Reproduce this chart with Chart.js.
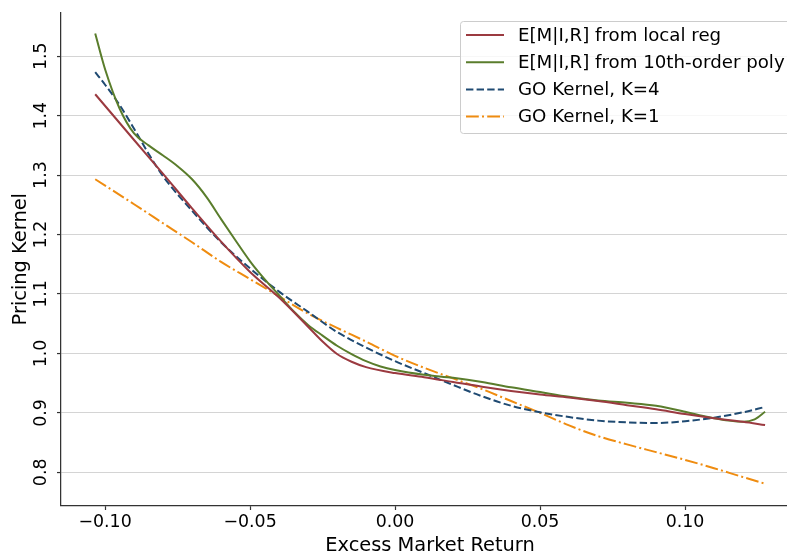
<!DOCTYPE html>
<html>
<head>
<meta charset="utf-8">
<script src="https://cdn.jsdelivr.net/npm/chart.js@4.4.1/dist/chart.umd.min.js"></script>
<style>
html,body{margin:0;padding:0;background:#fff;overflow:hidden;}
#wrap{width:800px;height:558px;}
</style>
</head>
<body>
<div id="wrap"><canvas id="c" width="800" height="558"></canvas></div>
<script>
// ---- data ----
const seriesLabels = [
  "E[M|I,R] from local reg",
  "E[M|I,R] from 10th-order poly",
  "GO Kernel, K=4",
  "GO Kernel, K=1"
];
const xLocal = [-0.1034,-0.09,-0.08,-0.07,-0.06,-0.05,-0.04,-0.03,-0.025,-0.02,-0.015,-0.01,0,0.01,0.02,0.03,0.04,0.05,0.06,0.07,0.08,0.09,0.10,0.11,0.12,0.1276];
const yLocal = [1.436,1.359,1.302,1.244,1.188,1.137,1.094,1.045,1.020,0.999,0.986,0.977,0.967,0.960,0.952,0.944,0.937,0.931,0.926,0.920,0.913,0.906,0.898,0.891,0.885,0.8795];

const xPoly = [-0.1034,-0.1,-0.095,-0.09,-0.085,-0.08,-0.075,-0.07,-0.065,-0.06,-0.055,-0.05,-0.045,-0.04,-0.035,-0.03,-0.025,-0.02,-0.015,-0.01,-0.005,0,0.01,0.02,0.03,0.04,0.05,0.06,0.07,0.08,0.09,0.10,0.105,0.11,0.115,0.12,0.124,0.1276];
const yPoly = [1.538,1.478,1.412,1.370,1.350,1.333,1.315,1.293,1.263,1.226,1.190,1.155,1.125,1.098,1.071,1.048,1.030,1.013,0.999,0.987,0.978,0.972,0.964,0.959,0.952,0.943,0.935,0.927,0.921,0.917,0.912,0.902,0.896,0.891,0.887,0.885,0.889,0.902];

const xK4 = [-0.1034,-0.1,-0.095,-0.09,-0.085,-0.08,-0.07,-0.06,-0.05,-0.04,-0.03,-0.02,-0.01,0,0.01,0.02,0.03,0.04,0.05,0.06,0.07,0.08,0.09,0.10,0.11,0.12,0.1276];
const yK4 = [1.473,1.452,1.418,1.378,1.336,1.298,1.240,1.187,1.143,1.104,1.070,1.036,1.010,0.987,0.967,0.947,0.928,0.912,0.901,0.893,0.887,0.884,0.883,0.886,0.892,0.901,0.910];

const xK1 = [-0.1034,-0.09,-0.08,-0.07,-0.06,-0.05,-0.04,-0.03,-0.02,-0.01,0,0.01,0.02,0.03,0.04,0.05,0.06,0.07,0.08,0.09,0.10,0.11,0.12,0.1276];
const yK1 = [1.293,1.251,1.219,1.187,1.154,1.125,1.096,1.067,1.043,1.020,0.996,0.976,0.958,0.940,0.920,0.900,0.879,0.861,0.847,0.834,0.821,0.807,0.792,0.781];

const xTicks = [-0.10,-0.05,0.00,0.05,0.10];
const yTicks = [0.8,0.9,1.0,1.1,1.2,1.3,1.4,1.5];
const xTitle = "Excess Market Return";
const yTitle = "Pricing Kernel";

const colors = ["#9b3a40", "#5a7d2c", "#1f4a72", "#ef8c10"];
const dashes = [[], [], [7.4, 3.2], [12.8, 3.2, 2, 3.2]];

const pts = (xs, ys) => xs.map((x, i) => ({x: x, y: ys[i]}));
const seriesData = [pts(xLocal, yLocal), pts(xPoly, yPoly), pts(xK4, yK4), pts(xK1, yK1)];

const FONT = "'DejaVu Sans', sans-serif";

const legendPlugin = {
  id: 'mplLegend',
  afterDraw(chart) {
    const ctx = chart.ctx;
    const ca = chart.chartArea;
    const x0 = 460.5, y0 = 21.5, w = ca.right - 8 - 460, h = 112;
    ctx.save();
    ctx.beginPath();
    const r = 3;
    ctx.moveTo(x0 + r, y0);
    ctx.lineTo(x0 + w - r, y0);
    ctx.quadraticCurveTo(x0 + w, y0, x0 + w, y0 + r);
    ctx.lineTo(x0 + w, y0 + h - r);
    ctx.quadraticCurveTo(x0 + w, y0 + h, x0 + w - r, y0 + h);
    ctx.lineTo(x0 + r, y0 + h);
    ctx.quadraticCurveTo(x0, y0 + h, x0, y0 + h - r);
    ctx.lineTo(x0, y0 + r);
    ctx.quadraticCurveTo(x0, y0, x0 + r, y0);
    ctx.closePath();
    ctx.fillStyle = 'rgba(255,255,255,0.8)';
    ctx.fill();
    ctx.strokeStyle = '#cccccc';
    ctx.lineWidth = 1;
    ctx.stroke();
    chart.data.datasets.forEach((ds, i) => {
      const yy = 35 + i * 27.2;
      ctx.beginPath();
      ctx.setLineDash(ds.borderDash || []);
      ctx.strokeStyle = ds.borderColor;
      ctx.lineWidth = ds.borderWidth;
      ctx.moveTo(466, yy);
      ctx.lineTo(504, yy);
      ctx.stroke();
      ctx.setLineDash([]);
      ctx.fillStyle = '#000';
      ctx.font = "18.2px " + FONT;
      ctx.textBaseline = 'middle';
      ctx.textAlign = 'left';
      ctx.fillText(ds.label, 518, yy + 1);
    });
    ctx.restore();
  }
};

new Chart(document.getElementById('c'), {
  type: 'line',
  data: {
    datasets: seriesLabels.map((lab, i) => ({
      label: lab,
      data: seriesData[i],
      borderColor: colors[i],
      backgroundColor: colors[i],
      borderWidth: 2,
      borderDash: dashes[i],
      pointRadius: 0,
      cubicInterpolationMode: 'monotone',
      fill: false
    }))
  },
  options: {
    responsive: false,
    animation: false,
    devicePixelRatio: 1,
    layout: {padding: {top: 12, right: 1, left: 0, bottom: 0}},
    plugins: {legend: {display: false}, tooltip: {enabled: false}},
    scales: {
      x: {
        type: 'linear',
        min: -0.1152,
        max: 0.1393,
        afterFit(s) { s.height = 52; },
        afterBuildTicks(s) { s.ticks = xTicks.map(v => ({value: v})); },
        ticks: {
          font: {family: FONT, size: 17.4},
          color: '#000',
          padding: 2,
          maxRotation: 0,
          callback: v => (v < 0 ? '\u2212' : '') + Math.abs(v).toFixed(2)
        },
        grid: {display: true, drawOnChartArea: false, drawTicks: true, tickLength: 4, tickColor: '#333', tickWidth: 1.2},
        border: {display: true, color: '#333', width: 1.25},
        title: {display: true, text: xTitle, font: {family: FONT, size: 19.4}, color: '#000', padding: {top: 2, bottom: 0}}
      },
      y: {
        type: 'linear',
        min: 0.7434,
        max: 1.5736,
        afterFit(s) { s.width = 61; },
        afterBuildTicks(s) { s.ticks = yTicks.map(v => ({value: v})); },
        ticks: {
          font: {family: FONT, size: 17.4},
          color: '#000',
          padding: 2,
          minRotation: 90,
          maxRotation: 90,
          crossAlign: 'center',
          callback: v => v.toFixed(1)
        },
        grid: {display: true, drawOnChartArea: true, color: '#d4d4d4', lineWidth: 1.1, drawTicks: true, tickLength: 4, tickColor: '#333', tickWidth: 1.2},
        border: {display: true, color: '#333', width: 1.25},
        title: {display: true, text: yTitle, font: {family: FONT, size: 19.4}, color: '#000', padding: {top: 9, bottom: 0}}
      }
    }
  },
  plugins: [legendPlugin]
});
</script>
</body>
</html>
